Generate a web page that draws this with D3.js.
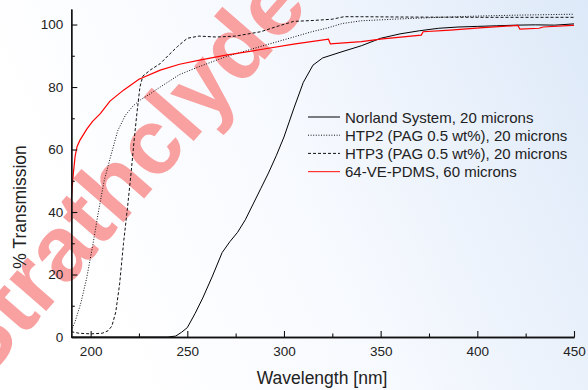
<!DOCTYPE html>
<html>
<head>
<meta charset="utf-8">
<script src="https://cdn.jsdelivr.net/npm/d3@7"></script>
<style>
  html, body { margin: 0; padding: 0; }
  body { width: 588px; height: 390px; overflow: hidden; }
  text { font-family: "Liberation Sans", Arial, sans-serif; }
</style>
</head>
<body>
<div id="chart"></div>
<script>
// wavelength (nm), % transmission
const norland = [[190,0],[220,0],[240,0],[244,0.3],[247,1.5],[250,3],[254,7.5],[258,12.5],[263,19.5],[268,27],[272,30.5],[276,33.5],[280,37.5],[284,42.5],[288,47.5],[292,52.5],[296,58],[300,64],[305,73],[310,81.5],[315,87],[320,89.3],[330,91.3],[340,93.2],[350,95.6],[360,97],[370,98],[380,98.8],[390,99.2],[400,99.4],[410,99.6],[420,99.8],[430,99.9],[440,99.8],[450,100.2]];
const htp2 = [[190,2],[192,5],[195,11],[198,19],[201,29],[204,40],[207,50],[210,57],[214,66],[218,71],[222,74],[226,76],[230,77.5],[236,80],[246,84],[256,86.5],[270,89.7],[288,93],[305,96],[315,97.8],[322,98.8],[330,100.3],[340,101.2],[360,101.8],[380,102.3],[400,102.7],[420,103],[450,103.3]];
const htp3 = [[190,1.7],[194,1.2],[200,1],[206,1.2],[209,2],[211,3.5],[213,8],[215,17],[217,30],[219,41],[221,53],[222.5,63],[224,72],[225.5,80],[227,83.5],[231,85.5],[236,87.5],[240,90],[245,93],[250,95.6],[256,96.3],[265,96],[275,96.3],[288,97.7],[297,99.5],[305,101],[315,101.3],[325,101.7],[331,102.5],[340,102.5],[360,102.4],[400,102.3],[450,102.3]];
const pdms = [[190,44],[190.5,48],[191,52],[192,58],[193,61],[194.5,63],[198,66.5],[201,69],[205,71.5],[210,75.5],[217,79],[225,82.5],[236,85.4],[246,87.3],[257,88.7],[270,90.2],[288,92],[305,93.7],[323,95.3],[324,93.8],[340,94.5],[351,95.4],[371,96.6],[372,97.7],[386,98.2],[403,99],[421,99.7],[422,98.5],[432,98.8],[434,99.2],[449,99.7],[450,99.7]];

const seriesNames = ["Norland System, 20 microns", "HTP2 (PAG 0.5 wt%), 20 microns", "HTP3 (PAG 0.5 wt%), 20 microns", "64-VE-PDMS, 60 microns"];
const xMajor = [200, 250, 300, 350, 400, 450];
const xMinor = [225, 275, 325, 375, 425];
const yMajor = [0, 20, 40, 60, 80, 100];
const yMinor = [10, 30, 50, 70, 90];

const W = 588, H = 390;
const svg = d3.select('#chart').append('svg')
  .attr('width', W).attr('height', H);

const grad = svg.append('defs').append('linearGradient')
  .attr('id', 'bg').attr('x1', '0').attr('y1', '0.3').attr('x2', '1').attr('y2', '0');
grad.append('stop').attr('offset', '0').attr('stop-color', '#ffffff');
grad.append('stop').attr('offset', '0.45').attr('stop-color', '#f6f9fe');
grad.append('stop').attr('offset', '1').attr('stop-color', '#dde9f8');
svg.append('rect').attr('width', W).attr('height', H).attr('fill', 'url(#bg)');

// watermark
svg.append('text')
  .attr('transform', 'translate(146,196) rotate(-49)')
  .attr('text-anchor', 'middle')
  .attr('font-weight', 'bold')
  .attr('font-size', 92)
  .attr('fill', '#f9a0a0')
  .text('Strathclyde');

const x = d3.scaleLinear().domain([190, 450]).range([71.3, 574]);
const y = d3.scaleLinear().domain([0, 105]).range([337, 8.9]);

const line = d3.line().x(d => x(d[0])).y(d => y(d[1]));

const styles = [
  { data: norland, color: '#000', dash: null, w: 1 },
  { data: htp2, color: '#111', dash: '1,1.6', w: 1 },
  { data: htp3, color: '#111', dash: '3,2', w: 1 },
  { data: pdms, color: '#ff0000', dash: null, w: 1.2 }
];

styles.forEach(s => {
  svg.append('path')
    .datum(s.data)
    .attr('d', line)
    .attr('fill', 'none')
    .attr('stroke', s.color)
    .attr('stroke-width', s.w)
    .attr('stroke-dasharray', s.dash);
});

// axes, ticks inward
svg.append('g').attr('transform', `translate(0,${y(0)})`)
  .call(d3.axisBottom(x).tickValues(xMajor).tickSize(-6).tickPadding(9).tickSizeOuter(0));
svg.append('g').attr('transform', `translate(0,${y(0)})`)
  .call(d3.axisBottom(x).tickValues(xMinor).tickSize(-3.5).tickFormat('').tickSizeOuter(0));
svg.append('g').attr('transform', `translate(${x(190)},0)`)
  .call(d3.axisLeft(y).tickValues(yMajor).tickSize(-6).tickPadding(8).tickSizeOuter(0));
svg.append('g').attr('transform', `translate(${x(190)},0)`)
  .call(d3.axisLeft(y).tickValues(yMinor).tickSize(-3.5).tickFormat('').tickSizeOuter(0));

svg.selectAll('.domain').attr('stroke', '#111').attr('stroke-width', 1.3);
svg.selectAll('.tick line').attr('stroke', '#111').attr('stroke-width', 1.1);
svg.selectAll('.tick text').attr('font-size', 13.5).attr('fill', '#222')
  .style('font-family', '"Liberation Sans", Arial, sans-serif');

svg.append('text')
  .attr('x', 322).attr('y', 384)
  .attr('text-anchor', 'middle')
  .attr('font-size', 17.5).attr('fill', '#222')
  .text('Wavelength [nm]');

svg.append('text')
  .attr('transform', 'translate(26,207) rotate(-90)')
  .attr('text-anchor', 'middle')
  .attr('font-size', 17.5).attr('fill', '#222')
  .text('% Transmission');

// legend
const legend = svg.append('g').attr('transform', 'translate(308,117)');
styles.forEach((s, i) => {
  const g = legend.append('g').attr('transform', `translate(0,${i * 18.2})`);
  g.append('line')
    .attr('x1', 0).attr('x2', 32).attr('y1', 0).attr('y2', 0)
    .attr('stroke', s.color === '#ff0000' ? '#f33' : s.color)
    .attr('stroke-width', s.w)
    .attr('stroke-dasharray', s.dash);
  g.append('text')
    .attr('x', 37).attr('y', 5.5)
    .attr('font-size', 15).attr('fill', '#222')
    .text(seriesNames[i]);
});
</script>
</body>
</html>
